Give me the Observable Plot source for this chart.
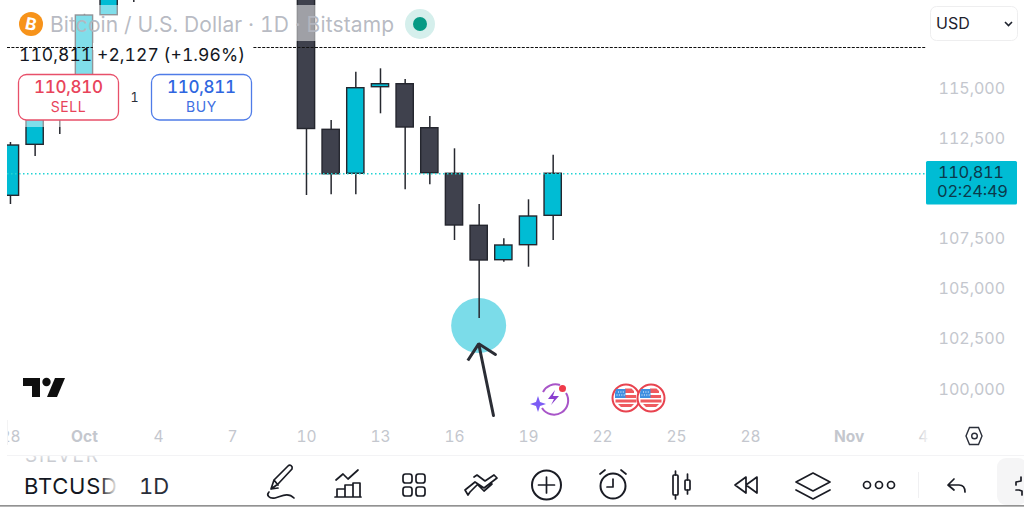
<!DOCTYPE html>
<html><head><meta charset="utf-8">
<script src="https://cdn.jsdelivr.net/npm/d3@7"></script>
<script src="https://cdn.jsdelivr.net/npm/@observablehq/plot@0.6"></script>
<style>
html,body{margin:0;padding:0;background:#fff;overflow:hidden}
#wrap{position:relative;width:1024px;height:507px;font-family:Inter,"Noto Sans",sans-serif}
#wrap>svg{position:absolute;left:0;top:0}
#chrome text{font-family:Inter,"Noto Sans",sans-serif;font-variant-numeric:tabular-nums}
#chart text{font-variant-numeric:tabular-nums}
</style></head><body><div id="wrap">
<div id="chart"></div>
<svg id="chrome" width="1024" height="507" viewBox="0 0 1024 507">
<defs>
<linearGradient id="fadeR" x1="0" x2="1" y1="0" y2="0"><stop offset="0" stop-color="#fff" stop-opacity="0"/><stop offset="1" stop-color="#fff"/></linearGradient>
<linearGradient id="fadeT" x1="0" x2="0" y1="0" y2="1"><stop offset="0" stop-color="#fff"/><stop offset="1" stop-color="#fff" stop-opacity="0"/></linearGradient>
<g id="flag"><circle r="13.500" fill="#fff" stroke="#e8434f" stroke-width="2"/>
<path d="M-1 -9.500h6.500l2.500 2.500v2h-9zM-1 -3h11v3h-11zM-10.500 1.500h21v3h-21zM-8 6h16l-3 3h-10z" fill="#ef5a5f"/>
<path d="M-10 -9h9.500v9h-10.500v-5z" fill="#3e8fe0"/>
<path d="M-8 -6h7M-9.500 -3h8.500" stroke="#fff" stroke-width="1" stroke-dasharray="1,1.400"/></g>
</defs>
<rect x="0" y="0" width="7" height="455" fill="#fff"/>
<line x1="7.500" y1="420" x2="7.500" y2="455" stroke="#f3f3f4"/>
<rect x="917" y="426" width="14" height="22" fill="url(#fadeR)"/>
<!-- header -->
<circle cx="31" cy="24" r="12" fill="#f7931a"/>
<text x="31" y="30" text-anchor="middle" font-size="17" font-weight="700" fill="#fff" transform="rotate(12 31 24)">B</text>
<text x="50" y="31.500" font-size="21" fill="#b4b7c0" fill-opacity=".95" textLength="344" lengthAdjust="spacing">Bitcoin / U.S. Dollar · 1D · Bitstamp</text>
<circle cx="420" cy="24" r="15" fill="#d5efec"/><circle cx="420" cy="24" r="7" fill="#069a85"/>
<rect x="930.500" y="6.500" width="87" height="34" rx="6" fill="#fff" stroke="#eeeeef"/>
<text x="936" y="29" font-size="16" fill="#1e222d">USD</text>
<path d="M1005 22l3.500 3.500 3.500-3.500" fill="none" stroke="#1e222d" stroke-width="1.600"/>
<!-- legend -->
<text x="19" y="61" font-size="17.500" fill="#131722" textLength="226" lengthAdjust="spacing">110,811 +2,127 (+1.96%)</text>
<rect x="18.500" y="74.500" width="100" height="45.500" rx="8" fill="#fff" stroke="#e8506a" stroke-width="1.300"/>
<text x="34" y="93" font-size="17" font-weight="500" fill="#e8435a" textLength="69" lengthAdjust="spacing">110,810</text>
<text x="68.500" y="112" text-anchor="middle" font-size="14" fill="#e8435a" letter-spacing=".6">SELL</text>
<text x="134.500" y="102" text-anchor="middle" font-size="12.500" fill="#2a2e39">1</text>
<rect x="151.500" y="74.500" width="100" height="45.500" rx="8" fill="#fff" stroke="#4f7ce8" stroke-width="1.300"/>
<text x="167" y="93" font-size="17" font-weight="500" fill="#2f66e0" textLength="69" lengthAdjust="spacing">110,811</text>
<text x="201.500" y="112" text-anchor="middle" font-size="14" fill="#3f70e2" letter-spacing=".6">BUY</text>
<!-- price label -->
<rect x="926" y="161" width="91" height="43.500" rx="1.500" fill="#00bcd4"/>
<text x="938" y="178" font-size="16.500" fill="#0b3a4c" textLength="66" lengthAdjust="spacing">110,811</text>
<text x="937" y="197" font-size="16.500" fill="#0b3a4c" textLength="71" lengthAdjust="spacing">02:24:49</text>
<!-- tradingview logo -->
<path d="M23 378h17v19h-8v-11h-9z" fill="#0f0f0f"/><circle cx="46.500" cy="382" r="4.200" fill="#0f0f0f"/><path d="M55 378h10l-8 19H47z" fill="#0f0f0f"/>
<!-- event icons -->
<g fill="none" stroke-width="2">
<path d="M543 392a14 14 0 0 1 17-7" stroke="#a855c8"/><path d="M566 393a14 14 0 0 1-24 15" stroke="#a855c8"/>
<path d="M555 390l-7 9h6l-3 6 8-9h-6z" fill="#8a3fd0" stroke="none"/>
<path d="M538 396l2 6 6 2-6 2-2 6-2-6-6-2 6-2z" fill="#7c5cf5" stroke="none"/>
<circle cx="562.500" cy="388.500" r="3.500" fill="#ef3b4a" stroke="none"/>
</g>
<use href="#flag" x="626" y="398"/>
<use href="#flag" x="651" y="398"/>
<!-- settings hexagon -->
<path d="M967 436l3.500-8.500h9l3.500 8.500-3.500 8.500h-9z" transform="translate(-1 0)" fill="none" stroke="#2a2e39" stroke-width="1.400"/>
<circle cx="974.500" cy="436" r="2.800" fill="none" stroke="#2a2e39" stroke-width="1.400"/>
<!-- toolbar -->
<text x="25" y="462" font-size="19" fill="#c9cbd1" textLength="73" lengthAdjust="spacing">SILVER</text>
<rect x="0" y="445" width="130" height="10" fill="#fff"/>
<rect x="0" y="455" width="130" height="6" fill="url(#fadeT)" opacity=".5"/>
<line x1="7" y1="455.500" x2="1024" y2="455.500" stroke="#f3f3f5"/>
<text x="24" y="493.500" font-size="22" fill="#131722" textLength="93" lengthAdjust="spacing">BTCUSD</text>
<rect x="100" y="472" width="18" height="26" fill="url(#fadeR)"/>
<text x="139" y="493.500" font-size="22" fill="#2a2e39">1D</text>
<rect x="997" y="458" width="30" height="47" rx="9" fill="#f5f5f6"/>
<g fill="none" stroke="#1a1c24" stroke-width="1.700" stroke-linecap="round" stroke-linejoin="round">
<path d="M271 489l3-9 14-14c2-2 5 0 4 3l-14 15z M274 480l4 5 M271 489l7-1"/><path d="M269 492c-3 3 0 7 6 6 7-2 13-6 19 0"/>
<path d="M337 497v-8h8v8zM345 497v-12h8v12zM353 497v-14h7v14zM335 497h26" /><path d="M336 480l7-6 5 5 10-9"/>
<rect x="403" y="474" width="9" height="9" rx="2.500"/><rect x="416" y="474" width="9" height="9" rx="2.500"/><rect x="403" y="487" width="9" height="9" rx="2.500"/><rect x="416" y="487" width="9" height="9" rx="2.500"/>
<path d="M465 490l10-8 3 2-8 8-2 3zM475 482l9 6 13-10-3-3-9 6-8-6-3 2M478 485l6 6 8-7"/>
<circle cx="546.500" cy="485" r="14.500" stroke-width="2"/><path d="M546.500 477v16M538.500 485h16"/>
<circle cx="613" cy="486" r="12.500" stroke-width="2"/><path d="M613 479v8h-6M600 474l5-4M626 474l-5-4" />
<rect x="673" y="475" width="5" height="20" rx="1"/><path d="M675.500 471v4M675.500 495v4"/><rect x="685" y="480" width="5" height="10" rx="1"/><path d="M687.500 474v6M687.500 490v4"/>
<path d="M746 477l-11 8 11 8zM757 477l-11 8 11 8z"/>
<path d="M813 473l17 9-17 9-17-9zM796 490l17 9 17-9"/>
<circle cx="867" cy="485" r="3.500"/><circle cx="879" cy="485" r="3.500"/><circle cx="891" cy="485" r="3.500"/>
<path d="M954 479l-6 6 6 5M948 485h11c4 0 6 3 6 7"/>
<path d="M1021 477v4l-5 1v3M1016 490h3l3 1v4"/>
</g>
<line x1="918.500" y1="472" x2="918.500" y2="498" stroke="#f0f0f2"/>
<line x1="0" y1="505.800" x2="1024" y2="505.800" stroke="#6e6e6e" stroke-width="1.200"/>
</svg>
</div>
<script>
// Day numbers count from 1 October 2025 = 1 (28 September = -2)
const days    = [-2, -1, 0, 1, 2, 3, 10, 11, 12, 13, 14, 15, 16, 17, 18, 19, 20];
const opens   = [109651,112193,113500,114402,118654,120600,122000,112941,110748,115065,115214,113021,110748,108156,106441,107189,108654];
const closes  = [112158,113554,114800,118639,120500,122000,112981,110728,115015,115214,113056,110778,108171,106426,107174,108619,110750];
const highs   = [112308,113700,115100,118700,120800,122500,122500,113405,115813,115982,115449,113604,111994,109217,107507,109452,111675];
const lows    = [109217,111610,112707,113900,118654,119287,109666,109701,109701,113739,109950,110199,107423,103535,106341,106092,107423];

const priceTicks = [115000,112500,107500,105000,102500,100000];
const dayTicks   = [-2,4,7,10,13,16,19,22,25,28,35];
const monthTicks = [1,32];
const monthNames = ["Oct","Nov"];

const lastPrice = 110811;
const prevLine  = 117044;
const highlightDay = 17, highlightPrice = 103186;
const arrowDays   = [17.58,16.98,16.54,16.98,17.66];
const arrowPrices = [98699,102273,101441,102273,101740];

const date = d => new Date(Date.UTC(2025,8,30) + d*864e5);
const candles = days.map((d,i)=>({day:d,open:opens[i],close:closes[i],high:highs[i],low:lows[i]}));
const arrowPts = arrowDays.map((d,i)=>({day:d,price:arrowPrices[i]}));
const CYAN="#00bcd4", DARK="#3f414d", EDGE="#24262e";

function veil(x,y,w,h,fill,op){
  return ()=>d3.create("svg:rect").attr("x",x).attr("y",y).attr("width",w).attr("height",h).attr("fill",fill).attr("fill-opacity",op).node();
}

const axisStyle={tickSize:0,label:null,fontSize:16,fill:"#c4c7ce"};
const plot = Plot.plot({
  width:1024,height:507,marginLeft:7,marginRight:86,marginTop:0,marginBottom:82,
  style:{background:"transparent",fontFamily:"Inter, 'Noto Sans', sans-serif",overflow:"visible"},
  x:{type:"utc",domain:[date(-2.12),date(35.62)],range:[7,938]},
  y:{domain:[98201,119387],range:[425,0]},
  marks:[
    Plot.dot([{day:highlightDay,price:highlightPrice}],{x:d=>date(d.day),y:"price",r:27.5,dx:-0.5,fill:"#7bdce9",stroke:"none"}),
    Plot.ruleX(candles,{x:d=>date(d.day),y1:"low",y2:"high",stroke:"#26282f",strokeWidth:1.5,clip:"frame"}),
    Plot.rect(candles,{x1:d=>date(d.day-0.35),x2:d=>date(d.day+0.35),y1:"open",y2:"close",
      fill:d=>d.close>=d.open?CYAN:DARK,stroke:EDGE,strokeWidth:1.4,clip:"frame"}),
    veil(0,5,440,36,"#fff",0.5),
    veil(0,41,254,86,"#fff",0.5),
    Plot.ruleY([lastPrice],{x1:date(-2.12),x2:date(35.1),dy:1.2,stroke:"#22d3d3",strokeWidth:1.6,strokeDasharray:"1.5,2.5"}),
    Plot.ruleY([prevLine],{x1:date(-2.12),x2:date(35.1),stroke:"#111",strokeWidth:1.2,strokeDasharray:"3,1.4"}),
    veil(93,43,160,7,"#fff",1),
    Plot.line(arrowPts,{x:d=>date(d.day),y:"price",stroke:"#2b2d35",strokeWidth:3,strokeLinejoin:"miter"}),
    Plot.axisY({...axisStyle,anchor:"right",ticks:priceTicks,tickFormat:d3.format(","),tickPadding:0,letterSpacing:"0.3px"}),
    Plot.axisX({...axisStyle,anchor:"bottom",ticks:dayTicks.map(date),tickFormat:d=>String(d.getUTCDate()),tickPadding:5,fontSize:15.5}),
    Plot.axisX({...axisStyle,anchor:"bottom",ticks:monthTicks.map(date),tickFormat:d=>monthNames[monthTicks.findIndex(m=>+date(m)===+d)],tickPadding:5,fontSize:15.5,fontWeight:700})
  ]
});
document.getElementById("chart").appendChild(plot);
</script></body></html>
